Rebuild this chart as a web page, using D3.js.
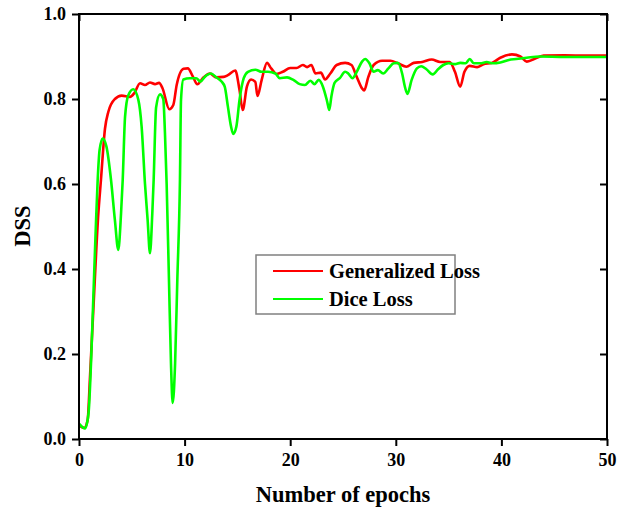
<!DOCTYPE html>
<html><head><meta charset="utf-8">
<script src="https://cdn.jsdelivr.net/npm/d3@7"></script>
<style>body{margin:0;background:#fff}svg{display:block}text{font-family:"Liberation Serif","Times New Roman",serif;font-weight:bold}</style>
</head><body>
<script>
const xTicks = [0,10,20,30,40,50];
const yTicks = [0.0,0.2,0.4,0.6,0.8,1.0];
const seriesNames = ["Generalized Loss","Dice Loss"];
const generalizedEpochs = [0,0.5,0.82,1.04,1.35,1.83,2.08,2.46,2.78,3.4,4.04,4.83,5.24,5.78,6.25,6.72,7.2,7.58,7.9,8.55,8.93,9.25,9.9,10.3,10.8,11.2,11.8,12.4,13.0,13.7,14.1,14.8,15.2,15.5,15.9,16.3,16.7,16.9,17.3,17.8,18.2,18.7,19.3,20.0,20.6,21.2,21.6,22.0,22.4,22.9,23.3,23.8,24.4,25.2,25.8,26.3,26.8,27.0,27.4,27.9,28.7,29.5,30.2,31.0,31.7,32.5,33.4,34.2,35.1,35.6,36.1,36.5,37.0,37.7,38.3,39.1,39.9,41.0,41.8,42.4,43.0,44.0,46,48,50];
const generalizedValues = [0.032,0.026,0.045,0.146,0.30,0.53,0.61,0.73,0.77,0.80,0.808,0.805,0.814,0.837,0.833,0.839,0.835,0.838,0.826,0.776,0.786,0.833,0.871,0.872,0.852,0.835,0.851,0.860,0.851,0.852,0.856,0.867,0.821,0.774,0.829,0.846,0.840,0.807,0.845,0.885,0.872,0.859,0.864,0.873,0.873,0.880,0.875,0.880,0.860,0.862,0.846,0.860,0.880,0.885,0.880,0.852,0.825,0.820,0.852,0.880,0.890,0.890,0.884,0.876,0.885,0.887,0.893,0.887,0.887,0.864,0.829,0.864,0.878,0.875,0.882,0.885,0.897,0.905,0.900,0.888,0.893,0.902,0.903,0.902,0.902];
const diceEpochs = [0,0.57,0.9,1.14,1.36,1.58,1.77,1.95,2.24,2.6,3.03,3.4,3.72,3.98,4.14,4.36,4.67,5.14,5.62,5.93,6.25,6.5,6.72,6.94,7.07,7.3,7.67,7.98,8.14,8.3,8.52,8.71,8.87,9.1,9.31,9.56,9.66,9.88,10.5,11.1,11.5,11.9,12.5,13.0,13.5,13.8,14.1,14.4,14.6,14.9,15.2,15.6,16.0,16.7,17.3,17.9,18.6,19.0,19.7,20.3,20.9,21.4,21.9,22.3,22.7,23.1,23.5,23.7,23.9,24.2,24.7,25.2,25.5,25.9,26.3,26.8,27.1,27.5,27.9,28.3,28.8,29.3,29.8,30.2,30.6,30.85,31.1,31.5,32.0,32.4,32.9,33.5,34.0,34.5,35.0,35.6,36.1,36.6,37.0,37.4,38.0,38.6,39.2,39.9,40.7,41.4,42.4,43.6,46,50];
const diceValues = [0.036,0.025,0.06,0.18,0.335,0.49,0.61,0.68,0.707,0.688,0.61,0.515,0.445,0.53,0.61,0.758,0.809,0.823,0.798,0.735,0.60,0.515,0.437,0.53,0.61,0.78,0.811,0.80,0.72,0.60,0.374,0.178,0.085,0.178,0.374,0.61,0.798,0.846,0.849,0.849,0.841,0.852,0.860,0.851,0.841,0.829,0.782,0.735,0.718,0.735,0.798,0.849,0.864,0.869,0.864,0.864,0.860,0.849,0.851,0.845,0.835,0.833,0.843,0.835,0.845,0.829,0.794,0.774,0.806,0.838,0.849,0.864,0.860,0.849,0.864,0.888,0.894,0.884,0.864,0.868,0.860,0.872,0.884,0.885,0.860,0.830,0.812,0.845,0.872,0.877,0.870,0.858,0.870,0.880,0.884,0.882,0.885,0.884,0.894,0.884,0.884,0.887,0.884,0.886,0.892,0.894,0.897,0.900,0.899,0.899];
const colors = ["#ff0000","#00ff00"];

const W=620,H=508;
const m={l:79,r:13,t:14,b:69};
const svg=d3.select("body").append("svg").attr("width",W).attr("height",H);
const x=d3.scaleLinear().domain([0,50]).range([m.l,W-m.r]);
const y=d3.scaleLinear().domain([0,1]).range([H-m.b,m.t]);

const series=[
  generalizedEpochs.map((e,i)=>({e,v:generalizedValues[i]})),
  diceEpochs.map((e,i)=>({e,v:diceValues[i]}))
];
const line=d3.line().x(d=>x(d.e)).y(d=>y(d.v)).curve(d3.curveMonotoneX);
svg.append("clipPath").attr("id","c").append("rect")
  .attr("x",m.l).attr("y",m.t).attr("width",W-m.r-m.l).attr("height",H-m.b-m.t);
const g=svg.append("g").attr("clip-path","url(#c)");
series.forEach((s,i)=>{
  g.append("path").datum(s).attr("d",line).attr("fill","none")
    .attr("stroke",colors[i]).attr("stroke-width",2.6).attr("stroke-linejoin","round");
});

// axes
const fmt=d3.format(".1f");
const axBottom=svg.append("g").attr("transform",`translate(0,${H-m.b})`)
  .call(d3.axisBottom(x).tickValues(xTicks).tickSize(7).tickPadding(7).tickFormat(d3.format("d")));
const axLeft=svg.append("g").attr("transform",`translate(${m.l},0)`)
  .call(d3.axisLeft(y).tickValues(yTicks).tickSize(7).tickPadding(6).tickFormat(fmt));
const axTop=svg.append("g").attr("transform",`translate(0,${m.t})`)
  .call(d3.axisBottom(x).tickValues(xTicks).tickSize(7).tickFormat(""));
const axRight=svg.append("g").attr("transform",`translate(${W-m.r},0)`)
  .call(d3.axisLeft(y).tickValues(yTicks).tickSize(7).tickFormat(""));
[axBottom,axLeft,axTop,axRight].forEach(a=>{
  a.select(".domain").remove();
  a.selectAll("line").attr("stroke","#000").attr("stroke-width",2);
  a.selectAll("text").attr("fill","#000").style("font-size","18px").style("font-family",'"Liberation Serif",serif').style("font-weight","bold");
});
svg.append("rect").attr("x",m.l).attr("y",m.t).attr("width",W-m.r-m.l).attr("height",H-m.b-m.t)
  .attr("fill","none").attr("stroke","#000").attr("stroke-width",2);

svg.append("text").attr("x",(m.l+W-m.r)/2).attr("y",502).attr("text-anchor","middle")
  .style("font-size","22.5px").text("Number of epochs");
svg.append("text").attr("transform","translate(30,226) rotate(-90)").attr("text-anchor","middle")
  .style("font-size","22.5px").text("DSS");

// legend
const lg=svg.append("g");
lg.append("rect").attr("x",256).attr("y",255).attr("width",199).attr("height",59)
  .attr("fill","#fff").attr("stroke","#808080").attr("stroke-width",1.5);
seriesNames.forEach((n,i)=>{
  const yy=271+i*28;
  lg.append("line").attr("x1",273).attr("x2",323).attr("y1",yy).attr("y2",yy)
    .attr("stroke",colors[i]).attr("stroke-width",2);
  lg.append("text").attr("x",329).attr("y",yy+7).style("font-size","20.5px").text(n);
});
</script>
</body></html>
